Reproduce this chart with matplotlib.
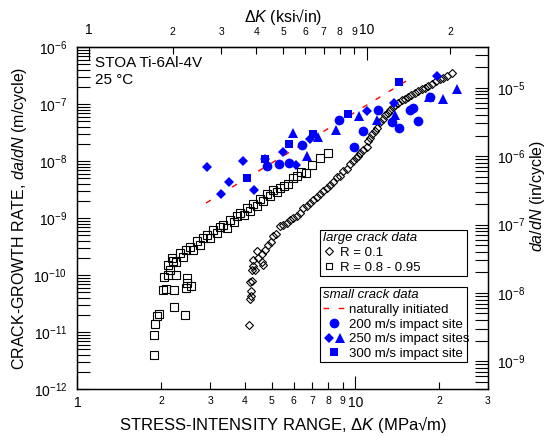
import numpy as np
import matplotlib
matplotlib.use("Agg")
import matplotlib.pyplot as plt
from matplotlib.ticker import FixedLocator, FuncFormatter, LogLocator, NullFormatter
from matplotlib.lines import Line2D
from matplotlib.legend_handler import HandlerTuple

plt.rcParams["font.family"] = ["Liberation Sans", "DejaVu Sans"]
plt.rcParams["mathtext.fontset"] = "custom"
plt.rcParams["mathtext.rm"] = "Liberation Sans"
plt.rcParams["mathtext.it"] = "Liberation Sans:italic"

KSI = 1.0988    # MPa*sqrt(m) per ksi*sqrt(in)
INCH = 0.0254   # m per in

# large crack data, R = 0.1
dk_r01 = [4.14, 4.18, 4.21, 4.21, 4.19, 4.24, 4.26, 4.35, 4.29, 4.41, 4.29, 4.60, 4.66,
          4.46, 4.61, 4.73, 4.85, 4.97, 5.06, 5.18, 5.35, 5.49, 5.66, 5.82, 5.96, 6.15,
          6.32, 6.49, 6.68, 6.86, 7.06, 7.28, 7.46, 7.67, 7.90, 8.10, 8.33, 8.56, 8.80,
          9.05, 9.30, 9.56, 9.83, 10.05, 10.21, 10.39, 10.65, 10.98, 11.13, 11.28, 11.47,
          11.76, 11.96, 12.26, 12.60, 12.78, 13.13, 13.32, 13.69, 13.88, 14.23, 14.67,
          15.08, 15.50, 15.85, 16.38, 16.79, 17.31, 17.79, 18.29, 18.86, 19.50, 20.16,
          20.72, 21.36, 22.21]
dadn_r01 = [1.32e-11, 3.8e-11, 4.2e-11, 5.2e-11, 7.4e-11, 7.8e-11, 1.24e-10, 1.24e-10,
            1.42e-10, 2.6e-10, 1.86e-10, 1.72e-10, 1.52e-10,
            2.0e-10, 2.3e-10, 2.8e-10, 3.3e-10, 3.85e-10, 4.8e-10, 5.3e-10, 7.1e-10,
            7.6e-10, 8.2e-10, 9.3e-10, 1.01e-9, 1.07e-9, 1.24e-9, 1.51e-9, 1.60e-9,
            1.85e-9, 2.09e-9, 2.36e-9, 2.67e-9, 2.92e-9, 3.4e-9, 3.83e-9, 4.3e-9, 5.3e-9,
            5.5e-9, 6.7e-9, 7.3e-9, 8.9e-9, 1.01e-8, 1.12e-8, 1.23e-8, 1.37e-8, 1.57e-8,
            1.79e-8, 2.2e-8, 2.55e-8, 3.0e-8, 3.3e-8, 3.8e-8, 4.86e-8, 5.5e-8, 6.4e-8,
            7.0e-8, 7.9e-8, 8.9e-8, 9.6e-8, 1.04e-7, 1.18e-7, 1.23e-7, 1.35e-7, 1.44e-7,
            1.55e-7, 1.70e-7, 1.82e-7, 1.91e-7, 2.07e-7, 2.25e-7, 2.54e-7, 2.75e-7,
            2.83e-7, 3.1e-7, 3.46e-7]

# large crack data, R = 0.8 - 0.95
dk_r08 = [1.89, 1.88, 1.90, 1.94, 1.96, 2.22, 2.44, 2.03, 2.08, 2.23, 2.45, 2.56, 2.48,
          2.05, 2.11, 2.27, 2.47, 2.15, 2.21, 2.12, 2.19, 2.26, 2.34, 2.40, 2.46, 2.54,
          2.60, 2.69, 2.76, 2.83, 2.92, 3.00, 3.07, 3.18, 3.26, 3.34, 3.45, 3.54, 3.66,
          3.75, 3.84, 3.97, 4.07, 4.18, 4.28, 4.43, 4.54, 4.65, 4.81, 4.93, 5.05, 5.22,
          5.35, 5.53, 5.72, 5.96, 6.16, 6.37, 6.64, 6.98, 7.46, 7.97]
dadn_r08 = [3.9e-12, 9.0e-12, 1.4e-11, 1.9e-11, 2.1e-11, 2.7e-11, 2.0e-11, 5.5e-11,
            5.7e-11, 5.5e-11, 5.8e-11, 6.3e-11, 7.3e-11, 9.1e-11, 9.9e-11, 9.8e-11,
            8.9e-11, 1.24e-10, 1.74e-10, 1.52e-10, 2.0e-10, 1.72e-10, 2.47e-10, 2.1e-10,
            2.8e-10, 3.1e-10, 2.7e-10, 4.0e-10, 3.4e-10, 4.5e-10, 5.1e-10, 4.5e-10,
            6.2e-10, 5.5e-10, 7.0e-10, 7.6e-10, 6.8e-10, 9.3e-10, 8.6e-10, 1.10e-9,
            1.24e-9, 1.14e-9, 1.51e-9, 1.34e-9, 1.78e-9, 1.64e-9, 2.18e-9, 2.0e-9,
            2.67e-9, 2.46e-9, 3.13e-9, 2.89e-9, 3.4e-9, 3.7e-9, 4.0e-9, 5.1e-9, 5.5e-9,
            6.5e-9, 6.2e-9, 8.6e-9, 1.14e-8, 1.39e-8]

# small crack data
dk_nat = [2.90, 15.21]
dadn_nat = [1.83e-9, 2.52e-7]

dk_200 = [4.79, 5.29, 5.77, 6.43, 8.73, 9.89, 10.62, 12.01, 13.54, 14.41, 15.66, 16.16,
          16.80, 18.48]
dadn_200 = [8.1e-9, 8.9e-9, 9.4e-9, 1.92e-8, 5.26e-8, 1.79e-8, 3.38e-8, 7.7e-8, 4.85e-8,
            3.77e-8, 7.7e-8, 8.4e-8, 5.1e-8, 1.35e-7]

dk_250d = [2.92, 3.95, 3.52, 3.28, 4.33, 4.73, 5.50, 6.09, 6.87, 11.05, 13.79, 19.67]
dadn_250d = [7.8e-9, 1.02e-8, 4.3e-9, 2.67e-9, 3.13e-9, 1.07e-8, 1.41e-8, 8.6e-9,
             2.45e-8, 7.6e-8, 1.04e-7, 3.04e-7]

dk_250t = [5.95, 6.70, 7.36, 8.52, 10.30, 11.99, 13.88, 18.40, 20.58, 23.21]
dadn_250t = [3.15e-8, 1.22e-8, 2.65e-8, 3.45e-8, 6.1e-8, 5.26e-8, 6.44e-8, 1.31e-7,
             1.21e-7, 1.84e-7]

dk_300 = [4.06, 4.73, 5.78, 7.04, 9.41, 14.38]
dadn_300 = [5.0e-9, 1.07e-8, 2.0e-8, 2.94e-8, 6.8e-8, 2.47e-7]

# tick positions
bottom_major = [1, 10]
bottom_minor = [2, 3, 4, 5, 6, 7, 8, 9, 20, 30]
top_major = [1, 10]
top_minor = [2, 3, 4, 5, 6, 7, 8, 9, 20]

large_labels = ["R = 0.1", "R = 0.8 - 0.95"]
small_labels = ["naturally initiated", "200 m/s impact site",
                "250 m/s impact sites", "300 m/s impact site"]


def lead_digit(v, pos):
    return "%d" % round(v / 10 ** np.floor(np.log10(v) + 1e-9))


def plain(v, pos):
    return "%g" % v


fig = plt.figure(figsize=(5.48, 4.36), dpi=100)
ax = fig.add_axes([0.1414, 0.1078, 0.7491, 0.7844])
ax.set_xscale("log")
ax.set_yscale("log")
ax.set_xlim(1, 30)
ax.set_ylim(1e-12, 1e-6)

ax.plot(dk_r08, dadn_r08, ls="none", marker="s", ms=5.5, mfc="none", mec="black", mew=0.8)
ax.plot(dk_r01, dadn_r01, ls="none", marker="D", ms=4.0, mfc="none", mec="black", mew=0.8)
ax.plot(dk_nat, dadn_nat, color="red", lw=1.0, dashes=(4, 7))
ax.plot(dk_200, dadn_200, ls="none", marker="o", ms=7.0, color="blue", mew=0)
ax.plot(dk_250d, dadn_250d, ls="none", marker="D", ms=5.0, color="blue", mew=0)
ax.plot(dk_250t, dadn_250t, ls="none", marker="^", ms=7.8, color="blue", mew=0)
ax.plot(dk_300, dadn_300, ls="none", marker="s", ms=6.3, color="blue", mew=0)

# bottom axis (MPa sqrt m)
ax.xaxis.set_major_locator(FixedLocator(bottom_major))
ax.xaxis.set_major_formatter(FuncFormatter(plain))
ax.xaxis.set_minor_locator(FixedLocator(bottom_minor))
ax.xaxis.set_minor_formatter(FuncFormatter(lead_digit))
ax.tick_params(axis="x", which="major", direction="in", length=9.5, width=0.8,
               labelsize=10, pad=5, top=False)
ax.tick_params(axis="x", which="minor", direction="in", length=5, width=0.8,
               labelsize=7.5, pad=5, top=False)

# left axis (m/cycle)
ax.yaxis.set_major_locator(LogLocator(base=10, numticks=10))
ax.yaxis.set_minor_locator(LogLocator(base=10, subs=np.arange(2, 10), numticks=20))
ax.yaxis.set_minor_formatter(NullFormatter())
ax.tick_params(axis="y", which="both", direction="in", length=9.5, width=0.8,
               labelsize=10, pad=7.5, right=False)

for s in ax.spines.values():
    s.set_linewidth(1.0)

# top axis (ksi sqrt in)
secx = ax.secondary_xaxis("top", functions=(lambda k: k / KSI, lambda k: k * KSI))
secx.xaxis.set_major_locator(FixedLocator(top_major))
secx.xaxis.set_major_formatter(FuncFormatter(plain))
secx.xaxis.set_minor_locator(FixedLocator(top_minor))
secx.xaxis.set_minor_formatter(FuncFormatter(lead_digit))
secx.tick_params(which="major", direction="in", length=9.5, width=0.8, labelsize=10, pad=7)
secx.tick_params(which="minor", direction="in", length=5, width=0.8, labelsize=7.5, pad=7)
secx.set_xlabel(r"$\Delta\mathit{K}$ (ksi√in)", fontsize=11.5, labelpad=1)

# right axis (in/cycle)
ax_r = ax.twinx()
ax_r.set_yscale("log")
ax_r.set_ylim(1e-11 / INCH, 1e-6 / INCH)
ax_r.yaxis.set_major_locator(LogLocator(base=10, numticks=10))
ax_r.yaxis.set_minor_locator(LogLocator(base=10, subs=np.arange(2, 10), numticks=20))
ax_r.yaxis.set_minor_formatter(NullFormatter())
ax_r.tick_params(axis="y", which="both", direction="in", length=9.5, width=0.8,
                 labelsize=10, pad=6.5)

ax.set_xlabel(r"STRESS-INTENSITY RANGE, $\Delta\mathit{K}$ (MPa√m)", fontsize=12)
ax.xaxis.set_label_coords(0.5, -0.072)
ax.set_ylabel(r"CRACK-GROWTH RATE, $\mathit{da/dN}$ (m/cycle)", fontsize=11.5)
ax.yaxis.set_label_coords(-0.118, 0.5)
ax_r.set_ylabel(r"$\mathit{da/dN}$ (in/cycle)", fontsize=11.5)
ax_r.yaxis.set_label_coords(1.098, 0.564)

ax.text(0.043, 0.953, "STOA Ti-6Al-4V", transform=ax.transAxes, fontsize=11, va="center")
ax.text(0.043, 0.903, "25 °C", transform=ax.transAxes, fontsize=11, va="center")

# legends
leg_kw = dict(loc="upper left", mode="expand", borderaxespad=0, fontsize=9.5,
              title_fontproperties={"size": 9.5, "style": "italic"}, alignment="left",
              fancybox=False, framealpha=1, edgecolor="black", numpoints=1,
              borderpad=0.2, labelspacing=0.18)

h_large = [Line2D([], [], ls="none", marker="D", ms=3.6, mfc="none", mec="black", mew=0.8),
           Line2D([], [], ls="none", marker="s", ms=4.4, mfc="none", mec="black", mew=0.8)]
leg1 = ax.legend(h_large, large_labels, title="large crack data",
                 bbox_to_anchor=(0.5907, 0.4649, 0.3581, 0.001),
                 handlelength=0.9, handletextpad=0.4, **leg_kw)
leg1.get_frame().set_linewidth(0.8)
ax.add_artist(leg1)

h_small = [Line2D([], [], color="red", lw=1.0, dashes=(4, 7)),
           Line2D([], [], ls="none", marker="o", ms=7.0, color="blue", mew=0),
           (Line2D([], [], ls="none", marker="D", ms=5.0, color="blue", mew=0),
            Line2D([], [], ls="none", marker="^", ms=7.8, color="blue", mew=0)),
           Line2D([], [], ls="none", marker="s", ms=6.3, color="blue", mew=0)]
leg2 = ax.legend(h_small, small_labels, title="small crack data",
                 bbox_to_anchor=(0.5907, 0.2982, 0.3581, 0.001),
                 handlelength=1.8, handletextpad=0.2,
                 handler_map={tuple: HandlerTuple(ndivide=None, pad=0)}, **leg_kw)
leg2.get_frame().set_linewidth(0.8)

fig.savefig("out.png", dpi=100)
